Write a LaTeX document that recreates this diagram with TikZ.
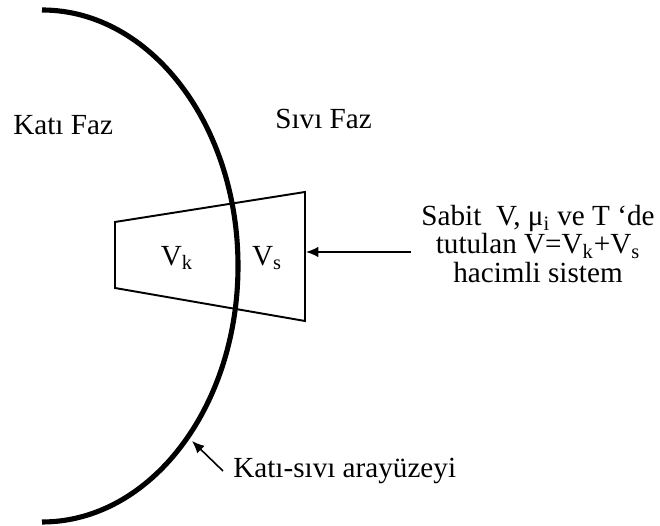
\documentclass[tikz,border=0pt]{standalone}
\usepackage{fontspec}
\setmainfont{Liberation Serif}
\usetikzlibrary{arrows.meta}
\tikzset{
  txt/.style={inner sep=0pt,font=\fontsize{16.6}{16}\selectfont},
  pointer/.style={line width=0.9pt,-{Latex[length=7pt,width=6pt]}}
}

\begin{document}
\fontsize{16.6}{16}\selectfont
\begin{tikzpicture}[x=1cm,y=1cm]
\path[use as bounding box] (0,0) rectangle (13.20,10.52);
% interface (half ellipse)
\draw[line width=2.9pt] (0.84,10.32) arc[start angle=90,end angle=-90,x radius=3.92,y radius=5.12];
% system volume
\coordinate (tl) at (2.30,6.08);
\coordinate (tr) at (6.10,6.68);
\coordinate (br) at (6.10,4.10);
\coordinate (bl) at (2.30,4.76);
\draw[line width=1.1pt] (tl) -- (tr) -- (br) -- (bl) -- cycle;
\node[txt] (vk) at (3.54,5.36) {V\textsubscript{k}};
\node[txt] (vs) at (5.34,5.36) {V\textsubscript{s}};
% phases
\node[txt,anchor=base west] (solid) at (0.26,7.82) {Katı Faz};
\node[txt,anchor=base west] (liquid) at (5.50,7.95) {Sıvı Faz};
% labels with pointers
\node[txt,align=center,inner sep=0.2cm] (sys) at (10.76,5.64)
  {Sabit\ \ V, μ\textsubscript{i} ve T ‘de\\tutulan V=V\textsubscript{k}+V\textsubscript{s}\\hacimli sistem};
\coordinate (sidetip) at (6.12,5.48);
\draw[pointer] (sys.west |- sidetip) -- (sidetip);
\node[txt,anchor=west,inner sep=0.2cm] (iface) at (4.46,1.10) {Katı-sıvı arayüzeyi};
\coordinate (arctip) at (3.84,1.70);
\draw[pointer] (iface.west) -- (arctip);
\end{tikzpicture}
\end{document}
